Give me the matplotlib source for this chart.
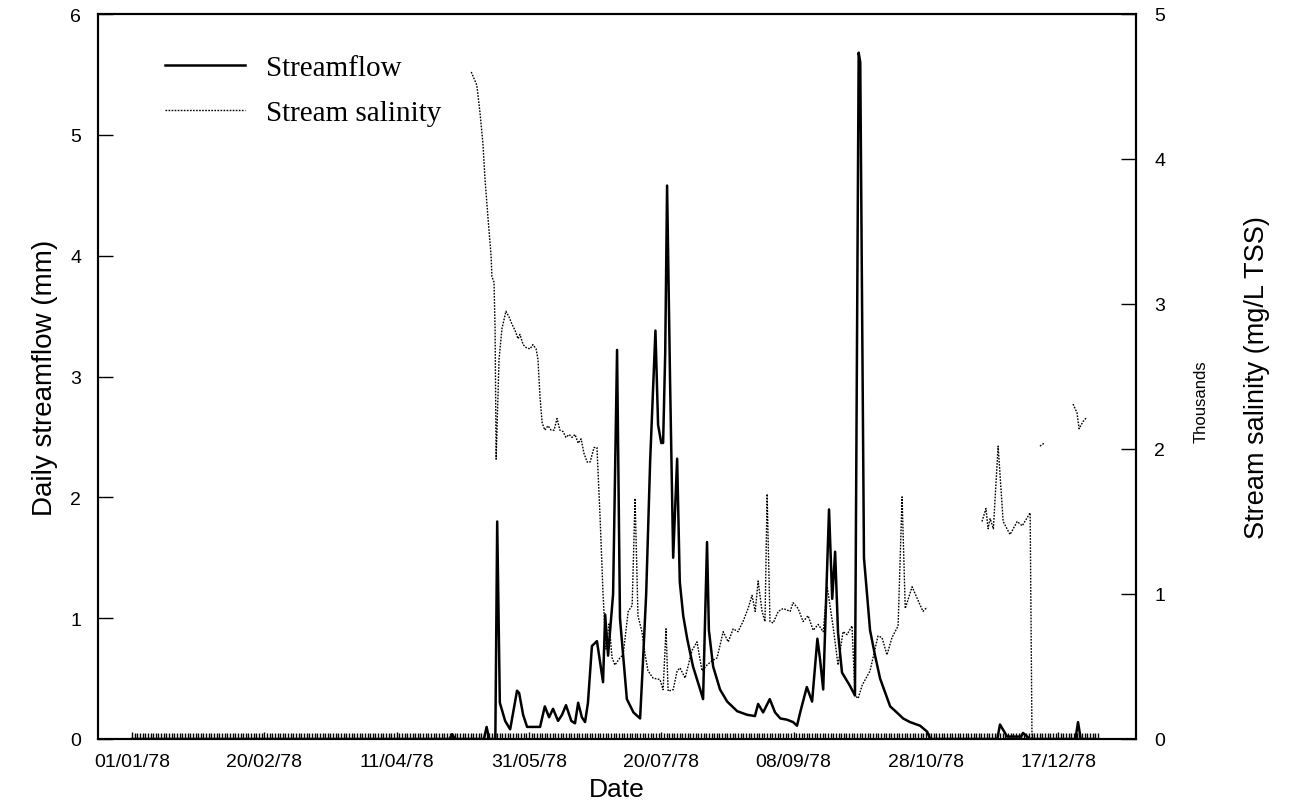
import numpy as np
import matplotlib
matplotlib.use("Agg")
import matplotlib.pyplot as plt
import matplotlib.dates as mdates
from matplotlib.ticker import FixedLocator, FuncFormatter

# Daily record for 1978, x given as day offset from 01/01/78
flow_day = [0, 120, 121, 122, 133, 134, 135, 137.3, 138, 139, 141, 142.9, 145.5, 146.3,
            147.8, 149.3, 154.2, 156, 157.6, 159.1, 161, 162.5, 164, 166, 167.4, 168.6,
            170, 171.2, 172.3, 173.8, 175.7, 178, 178.8, 179.9, 181.8, 183.3, 184.4, 187,
            189.5, 192, 193, 194.3, 195.8, 197.8, 198.8, 200, 200.7, 201.5, 202.2, 203.3,
            204.5, 206, 207, 208.3, 209.8, 212, 214.7, 215.8, 217.3, 218, 219.6, 222.2,
            224.9, 228.7, 232.5, 235.4, 236.6, 238.5, 241, 243, 245, 247.5, 249.8, 251.3,
            252.5, 255, 257, 259, 260, 261.2, 262.7, 263.4, 264.6, 265.7, 266.8, 268.3,
            271.3, 273.2, 274.6, 275.2, 276.6, 278.9, 280.8, 282.7, 286.5, 289, 291.4, 294,
            297.8, 300.5, 301.6, 327, 328, 330.7, 336, 336.7, 339.4, 356.5, 357.5, 358.5, 364]
flow_mm = [0, 0, 0.04, 0, 0, 0.1, 0, 0, 1.8, 0.3, 0.15, 0.08, 0.4, 0.38,
           0.2, 0.1, 0.1, 0.27, 0.18, 0.25, 0.15, 0.2, 0.28, 0.15, 0.13, 0.3,
           0.18, 0.14, 0.3, 0.77, 0.81, 0.47, 1.03, 0.69, 1.2, 3.22, 1.0, 0.33,
           0.22, 0.17, 0.6, 1.2, 2.3, 3.38, 2.6, 2.45, 2.45, 3.2, 4.58, 3.0,
           1.5, 2.32, 1.3, 1.02, 0.83, 0.6, 0.41, 0.33, 1.63, 0.9, 0.6, 0.41,
           0.31, 0.23, 0.2, 0.19, 0.29, 0.22, 0.33, 0.22, 0.17, 0.16, 0.14, 0.11,
           0.22, 0.43, 0.31, 0.83, 0.66, 0.41, 1.43, 1.9, 1.16, 1.55, 0.88, 0.55,
           0.44, 0.36, 5.68, 5.6, 1.5, 0.9, 0.69, 0.5, 0.27, 0.22, 0.17, 0.14,
           0.11, 0.06, 0, 0, 0.12, 0.02, 0.02, 0.05, 0, 0, 0.14, 0, 0]

# Stream salinity (mg/L TSS), only sampled on some days - nan marks a gap
sal_day = [128.2, 130.3, 131.5, 132.6, 133.4, 134.5, 135.7, 136, 136.8, 137.2, 137.6,
           138.7, 139.8, 141.3, 142.5, 143.6, 144.7, 145.9, 146.6, 147.8, 148.9, 150.4,
           151.5, 152.7, 153.4, 154.2, 155, 156, 157.2, 158.4, 159.5, 160.6, 161.7, 162.9,
           164, 165.2, 166.3, 167.4, 168.6, 169.7, 170.8, 172, 173.1, 174.6, 175.7, 176.9,
           178, 179.1, 180.3, 181.4, 182.5, 184.4, 185.6, 187.5, 189, 190.1, 191.2, 192.7,
           193.9, 195, 196.9, 199.5, 200.7, 201.8, 202.6, 204.5, 206, 207.1, 209, 211.6,
           213.5, 215.4, 217.3, 219.2, 221.1, 223.4, 225.3, 227.2, 229, 230.9, 232.8, 234.3,
           235.5, 236.6, 238.1, 239.2, 240, 241.1, 242.3, 244.2, 246.1, 248.7, 249.8, 251.7,
           253.6, 255.5, 257.4, 259.3, 261.2, 262.7, 264.9, 266.8, 268.7, 270.2, 272.1,
           273.2, 274.4, 275.9, 278.9, 281.9, 283.4, 285.3, 287.2, 289.5, 291, 292.2, 294.8,
           296.7, 298.9, 300.5, 310,
           321.2, 322.7, 323.5, 324.3, 325.5, 327.3, 329.2, 331.8, 334.5, 336.4, 339.4,
           340.1, 342,
           343.1, 344.7, 350,
           355.6, 357.1, 357.9, 359.4, 360.9]
sal_mgl = [4600, 4510, 4320, 4110, 3860, 3600, 3330, 3190, 3150, 2830, 1930,
           2620, 2830, 2950, 2910, 2860, 2820, 2760, 2790, 2720, 2700, 2690,
           2720, 2690, 2620, 2350, 2180, 2130, 2160, 2130, 2130, 2210, 2130, 2120,
           2080, 2100, 2080, 2100, 2040, 2070, 1970, 1910, 1910, 2010, 2010, 1520,
           1000, 620, 800, 560, 510, 560, 580, 880, 920, 1660, 850, 740,
           580, 470, 420, 410, 340, 760, 330, 340, 470, 490, 420, 610,
           670, 470, 510, 540, 560, 740, 670, 760, 740, 810, 900, 990,
           880, 1090, 880, 810, 1690, 810, 800, 880, 900, 880, 940, 900,
           810, 850, 750, 790, 740, 1050, 780, 510, 740, 720, 780,
           300, 280, 370, 470, 710, 700, 580, 700, 780, 1670, 900, 1050,
           970, 880, 910, np.nan,
           1500, 1590, 1450, 1520, 1450, 2020, 1500, 1410, 1500, 1470, 1560,
           0, np.nan,
           2020, 2040, np.nan,
           2310, 2250, 2140, 2190, 2220]

tick_step = 50  # days between date labels

start = mdates.date2num(np.datetime64("1978-01-01"))
flow_x = start + np.array(flow_day)
sal_x = start + np.array(sal_day)

plt.rcParams["font.family"] = ["Liberation Sans", "DejaVu Sans"]

fig = plt.figure(figsize=(12.96, 8.04), dpi=100)
ax = fig.add_axes([98 / 1296, 64 / 804, 1038 / 1296, 725 / 804])
ax2 = ax.twinx()

ax.plot(flow_x, flow_mm, color="black", lw=1.8, label="Streamflow")
ax2.plot(sal_x, sal_mgl, color="black", lw=1.0, linestyle=(0, (1.2, 1.0)), label="Stream salinity")

ax.set_xlim(start - 12.85, start + 379.4)
ax.set_ylim(0, 6)
ax2.set_ylim(0, 5000)

ax.xaxis.set_major_locator(FixedLocator(start + np.arange(0, 351, tick_step)))
ax.xaxis.set_major_formatter(mdates.DateFormatter("%d/%m/%y"))
ax.xaxis.set_minor_locator(FixedLocator(start + np.arange(0, 366)))
ax.set_yticks(range(0, 7))
ax2.set_yticks(range(0, 5001, 1000))
ax2.yaxis.set_major_formatter(FuncFormatter(lambda v, p: f"{v / 1000:.0f}"))

ax.tick_params(axis="x", which="major", direction="in", length=5, width=1, pad=10, labelsize=14)
ax.tick_params(axis="x", which="minor", direction="in", length=4, width=1.0)
ax.tick_params(axis="y", direction="in", length=11, width=1, pad=12, labelsize=14)
ax2.tick_params(axis="y", direction="in", length=11, width=1, pad=13, labelsize=14)

for a in (ax, ax2):
    for s in a.spines.values():
        s.set_linewidth(1.5)

ax.set_xlabel("Date", fontsize=19, labelpad=5)
ax.set_ylabel("Daily streamflow (mm)", fontsize=20, labelpad=9)
ax2.set_ylabel("Stream salinity (mg/L TSS)", fontsize=19.5, labelpad=57)
fig.text(1201 / 1296, 0.5, "Thousands", rotation=90, fontsize=12, ha="center", va="center")

h1, l1 = ax.get_legend_handles_labels()
h2, l2 = ax2.get_legend_handles_labels()
ax.legend(h1 + h2, l1 + l2, loc="upper left", bbox_to_anchor=(0.0645, 0.944), frameon=False,
          borderpad=0, borderaxespad=0, handlelength=2.75, handletextpad=0.7,
          prop={"family": "Liberation Serif", "size": 21}, labelspacing=0.65)

fig.savefig("out.png", dpi=100)
